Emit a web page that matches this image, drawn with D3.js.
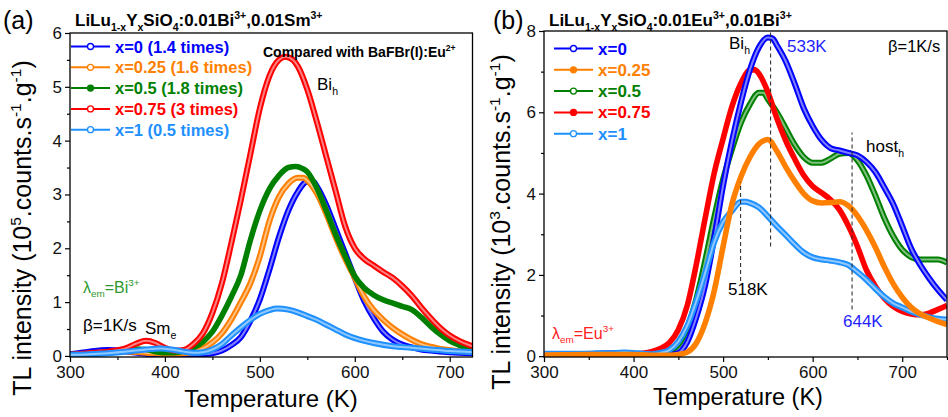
<!DOCTYPE html>
<html><head><meta charset="utf-8">
<script src="https://cdn.jsdelivr.net/npm/d3@7"></script>
<style>body{margin:0;background:#fff}svg{font-family:Arial,"Liberation Sans",sans-serif}</style>
</head><body><svg id="c" width="948" height="417"></svg>
<script>
// ---------- DATA (panel a, 10^5 counts) ----------
const aLabels = ["x=0 (1.4 times)","x=0.25 (1.6 times)","x=0.5 (1.8 times)","x=0.75 (3 times)","x=1 (0.5 times)"];
const aFilled = [false,false,true,false,false];
const a_x0 = [[300,0.03],[320,0.08],[340,0.11],[360,0.08],[380,0.04],[400,0.02],[420,0.02],[440,0.03],[450,0.05],[460,0.1],[470,0.2],[480,0.35],[490,0.65],[500,1.05],[510,1.6],[520,2.2],[530,2.7],[540,3.05],[550,3.24],[556,3.24],[560,3.15],[570,2.8],[580,2.35],[590,1.9],[600,1.45],[610,1.02],[620,0.7],[630,0.45],[640,0.3],[650,0.21],[660,0.16],[670,0.12],[680,0.1],[700,0.07],[724,0.05]];
const a_x025 = [[300,0.01],[320,0.04],[340,0.07],[360,0.08],[380,0.06],[400,0.04],[420,0.05],[430,0.08],[440,0.14],[450,0.25],[460,0.42],[470,0.68],[480,1.0],[490,1.35],[500,1.85],[510,2.5],[520,2.95],[530,3.2],[540,3.31],[546,3.31],[550,3.26],[560,3.02],[570,2.64],[580,2.2],[590,1.8],[600,1.45],[610,1.1],[620,0.85],[630,0.67],[640,0.52],[650,0.4],[660,0.3],[670,0.22],[680,0.17],[690,0.13],[700,0.11],[710,0.09],[724,0.08]];
const a_x05 = [[300,0.02],[320,0.04],[340,0.07],[360,0.1],[370,0.13],[380,0.12],[390,0.08],[400,0.06],[410,0.06],[420,0.09],[430,0.15],[440,0.26],[450,0.45],[460,0.75],[470,1.1],[480,1.5],[490,2.15],[500,2.7],[510,3.1],[520,3.35],[530,3.5],[538,3.52],[545,3.48],[550,3.42],[560,3.12],[570,2.7],[580,2.25],[590,1.85],[600,1.48],[610,1.26],[620,1.13],[630,1.04],[640,0.98],[650,0.92],[660,0.86],[670,0.72],[680,0.55],[690,0.4],[700,0.28],[710,0.2],[724,0.11]];
const a_x075 = [[300,0.02],[320,0.05],[340,0.08],[360,0.15],[370,0.23],[380,0.28],[390,0.24],[400,0.15],[410,0.1],[420,0.11],[430,0.22],[440,0.42],[450,0.8],[460,1.35],[470,2.1],[480,2.9],[490,3.75],[500,4.6],[510,5.2],[520,5.5],[527,5.56],[535,5.5],[540,5.38],[550,4.95],[560,4.35],[570,3.7],[580,3.05],[590,2.4],[600,2.0],[610,1.8],[620,1.68],[630,1.56],[640,1.45],[650,1.3],[660,1.12],[670,0.9],[680,0.7],[690,0.52],[700,0.38],[710,0.28],[724,0.18]];
const a_x1 = [[300,0.02],[320,0.03],[340,0.05],[360,0.08],[380,0.12],[395,0.14],[410,0.11],[420,0.08],[430,0.06],[440,0.07],[450,0.12],[460,0.22],[470,0.38],[480,0.53],[490,0.67],[500,0.78],[510,0.85],[518,0.88],[530,0.86],[540,0.81],[550,0.74],[560,0.67],[570,0.58],[580,0.49],[590,0.4],[600,0.33],[610,0.28],[620,0.24],[640,0.18],[660,0.15],[680,0.12],[700,0.09],[724,0.07]];

// ---------- DATA (panel b, 10^3 counts) ----------
const bLabels = ["x=0","x=0.25","x=0.5","x=0.75","x=1"];
const bFilled = [false,true,false,true,false];
const b_x0 = [[300,0.05],[340,0.05],[380,0.07],[400,0.06],[420,0.03],[440,0.03],[450,0.08],[460,0.35],[470,0.95],[480,1.75],[490,2.9],[500,4.2],[510,5.3],[520,6.25],[530,7.05],[540,7.6],[550,7.84],[555,7.82],[560,7.65],[570,7.25],[580,6.7],[590,6.1],[600,5.66],[610,5.32],[620,5.12],[630,5.06],[640,5.0],[650,4.94],[660,4.78],[670,4.53],[680,4.15],[690,3.74],[700,3.2],[710,2.65],[720,2.25],[730,1.92],[740,1.63],[750,1.38]];
const b_x025 = [[300,0.03],[350,0.04],[400,0.04],[430,0.02],[440,0.02],[450,0.04],[460,0.1],[470,0.32],[480,0.82],[490,1.6],[500,2.7],[510,3.75],[520,4.42],[530,4.9],[540,5.22],[550,5.33],[560,5.05],[570,4.65],[580,4.3],[590,4.0],[600,3.82],[610,3.77],[620,3.78],[630,3.8],[640,3.7],[650,3.45],[660,3.1],[670,2.68],[680,2.2],[690,1.78],[700,1.45],[710,1.2],[720,1.04],[730,0.94],[740,0.85],[750,0.78]];
const b_x05 = [[300,0.04],[350,0.05],[400,0.05],[420,0.04],[430,0.06],[440,0.12],[450,0.28],[460,0.7],[470,1.4],[480,2.35],[490,3.4],[500,4.35],[510,5.1],[520,5.75],[530,6.2],[540,6.48],[545,6.48],[550,6.32],[560,6.0],[570,5.6],[580,5.2],[590,4.9],[600,4.76],[610,4.76],[620,4.86],[630,4.98],[640,5.0],[650,4.82],[660,4.45],[670,3.95],[680,3.4],[690,2.95],[700,2.62],[710,2.44],[720,2.38],[730,2.38],[740,2.38],[750,2.3]];
const b_x075 = [[300,0.04],[350,0.05],[400,0.05],[410,0.07],[420,0.11],[430,0.19],[440,0.33],[450,0.65],[460,1.25],[470,2.25],[480,3.4],[490,4.5],[500,5.35],[510,6.15],[520,6.72],[530,7.04],[535,7.05],[540,6.95],[550,6.5],[560,5.85],[570,5.3],[580,4.85],[590,4.45],[600,4.18],[610,4.02],[620,3.85],[630,3.6],[640,3.2],[650,2.7],[660,2.12],[670,1.72],[680,1.42],[690,1.22],[700,1.1],[710,1.04],[720,1.02],[730,1.06],[740,1.15],[750,1.25]];
const b_x1 = [[300,0.06],[320,0.06],[340,0.06],[360,0.07],[380,0.08],[390,0.09],[400,0.08],[410,0.06],[420,0.05],[430,0.08],[440,0.15],[450,0.36],[460,0.75],[470,1.35],[480,2.05],[490,2.8],[500,3.3],[510,3.58],[520,3.8],[525,3.8],[530,3.77],[540,3.66],[550,3.44],[560,3.2],[570,2.98],[580,2.75],[590,2.55],[600,2.43],[610,2.38],[620,2.35],[630,2.31],[640,2.24],[650,2.07],[660,1.88],[670,1.66],[680,1.46],[690,1.3],[700,1.2],[710,1.1],[720,1.02],[730,0.96],[740,0.92],[750,0.9]];

const xTicks = [300,400,500,600,700];
const aYTicks = [0,1,2,3,4,5,6];
const bYTicks = [0,2,4,6,8];
// dashed guide lines in panel b: [temperature, lower value, upper value]
const bGuides = [[519.5,1.85,4.27],[553,2.7,8],[644,1.15,5.5]];

const colors = ["#0000ff","#ff8000","#008000","#ff0000","#1e90ff"];
const svg = d3.select("#c");

function rich(g, x, y, parts, size, attrs) {
  const t = g.append("text").attr("x", x).attr("y", y).attr("font-size", size);
  Object.entries(attrs || {}).forEach(([k, v]) => t.attr(k, v));
  let shift = 0;
  parts.forEach(([s, k]) => {
    const ts = t.append("tspan").text(s);
    const target = k === "sup" ? -0.42 * size : k === "sub" ? 0.28 * size : 0;
    if (target - shift !== 0) ts.attr("dy", target - shift);
    shift = target;
    if (k) ts.attr("font-size", size * 0.62);
  });
  return t;
}

function panel(o) {
  const x = d3.scaleLinear().domain(o.xd).range([o.L, o.R]);
  const y = d3.scaleLinear().domain(o.yd).range([o.B, o.T]);
  const g = svg.append("g");
  const cid = "clip" + o.id;
  svg.append("clipPath").attr("id", cid).append("rect")
    .attr("x", o.L).attr("y", o.T).attr("width", o.R - o.L).attr("height", o.B - o.T);

  const line = d3.line().x(d => x(d[0])).y(d => y(d[1])).curve(d3.curveMonotoneX);
  const cg = g.append("g").attr("clip-path", `url(#${cid})`);
  o.order.forEach(i => {
    cg.append("path").attr("d", line(o.series[i])).attr("fill", "none")
      .attr("stroke", colors[i]).attr("stroke-width", o.filled[i] ? 5.6 : 6).attr("stroke-linejoin", "round");
    if (!o.filled[i]) {
      cg.append("path").attr("d", line(o.series[i])).attr("fill", "none")
        .attr("stroke", "#fff").attr("stroke-opacity", 0.5).attr("stroke-width", 2);
    }
  });

  // axes
  g.append("g").attr("transform", `translate(0,${o.B})`)
    .call(d3.axisBottom(x).tickValues(xTicks).tickFormat(d3.format("d")).tickSize(5).tickPadding(4).tickSizeOuter(0));
  g.append("g").attr("transform", `translate(0,${o.B})`)
    .call(d3.axisBottom(x).tickValues(xTicks.map(v => v + 50).filter(v => v <= o.xd[1])).tickSize(3).tickFormat("").tickSizeOuter(0));
  g.append("g").attr("transform", `translate(${o.L},0)`)
    .call(d3.axisLeft(y).tickValues(o.yt).tickFormat(d3.format("d")).tickSize(5).tickPadding(3).tickSizeOuter(0));
  const step = o.yt[1] - o.yt[0];
  g.append("g").attr("transform", `translate(${o.L},0)`)
    .call(d3.axisLeft(y).tickValues(o.yt.slice(0, -1).map(v => v + step / 2)).tickSize(3).tickFormat("").tickSizeOuter(0));
  g.selectAll(".domain").remove();
  g.selectAll(".tick line").attr("stroke", "#000").attr("stroke-width", 1.2);
  g.selectAll(".tick text").attr("font-size", 17).attr("fill", "#111").attr("font-family", "Arial, 'Liberation Sans', sans-serif");
  g.append("rect").attr("x", o.L).attr("y", o.T).attr("width", o.R - o.L).attr("height", o.B - o.T)
    .attr("fill", "none").attr("stroke", "#000").attr("stroke-width", 1.3);

  // legend
  o.labels.forEach((lab, i) => {
    const ly = o.legY + i * o.legStep;
    g.append("line").attr("x1", o.legX).attr("x2", o.legX + 39).attr("y1", ly).attr("y2", ly)
      .attr("stroke", colors[i]).attr("stroke-width", 2);
    g.append("circle").attr("cx", o.legX + 19.5).attr("cy", ly).attr("r", 3)
      .attr("fill", o.filled[i] ? colors[i] : "#fff").attr("stroke", colors[i]).attr("stroke-width", 1.3);
    g.append("text").attr("x", o.legX + 44).attr("y", ly + 6).attr("font-size", o.legFont)
      .attr("font-weight", "bold").attr("fill", colors[i]).text(lab);
  });
  return {x, y, g};
}

// ---------- Panel a ----------
const A = panel({id: "a", L: 70, R: 472.5, T: 33, B: 357, xd: [300, 724], yd: [-0.02, 6], yt: aYTicks,
  series: [a_x0, a_x025, a_x05, a_x075, a_x1], order: [0, 1, 2, 3, 4], filled: aFilled,
  labels: aLabels, legX: 71, legY: 46.5, legStep: 20.8, legFont: 16.5});

// ---------- Panel b ----------
const Bp = panel({id: "b", L: 544, R: 947, T: 31, B: 357, xd: [300, 750], yd: [-0.02, 8], yt: bYTicks,
  series: [b_x0, b_x025, b_x05, b_x075, b_x1], order: [2, 3, 0, 4, 1], filled: bFilled,
  labels: bLabels, legX: 554, legY: 48.5, legStep: 21.3, legFont: 17});

bGuides.forEach(([t, v0, v1]) => {
  Bp.g.append("line").attr("x1", Bp.x(t)).attr("x2", Bp.x(t)).attr("y1", Bp.y(v0)).attr("y2", Bp.y(v1))
    .attr("stroke", "#333").attr("stroke-width", 1.1).attr("stroke-dasharray", "4,3");
});

// ---------- Text ----------
rich(svg, 3, 29, [["(a)", ""]], 25, {});
rich(svg, 493, 29, [["(b)", ""]], 25, {});
rich(svg, 75, 26, [["LiLu",""],["1-x","sub"],["Y",""],["x","sub"],["SiO",""],["4","sub"],[":0.01Bi",""],["3+","sup"],[",0.01Sm",""],["3+","sup"]], 17, {"font-weight": "bold"});
rich(svg, 549, 26, [["LiLu",""],["1-x","sub"],["Y",""],["x","sub"],["SiO",""],["4","sub"],[":0.01Eu",""],["3+","sup"],[",0.01Bi",""],["3+","sup"]], 17, {"font-weight": "bold"});

rich(svg, 263, 57, [["Compared with BaFBr(I):Eu",""],["2+","sup"]], 14, {"font-weight": "bold"});
rich(svg, 317, 90, [["Bi",""],["h","sub"]], 17, {});
rich(svg, 83, 293, [["λ",""],["em","sub"],["=Bi",""],["3+","sup"]], 16, {fill: "#2e9a2e"});
rich(svg, 83, 331, [["β=1K/s",""]], 17, {});
rich(svg, 145, 334, [["Sm",""],["e","sub"]], 17, {});

rich(svg, 729, 49, [["Bi",""],["h","sub"]], 17, {});
rich(svg, 787, 52, [["533K",""]], 17, {fill: "#1f1fff"});
rich(svg, 888, 52, [["β=1K/s",""]], 16.5, {});
rich(svg, 866, 152, [["host",""],["h","sub"]], 17, {});
rich(svg, 728, 295, [["518K",""]], 17, {});
rich(svg, 843, 327, [["644K",""]], 17, {fill: "#1f1fff"});
rich(svg, 552, 339, [["λ",""],["em","sub"],["=Eu",""],["3+","sup"]], 16, {fill: "#ff2020"});

rich(svg, 271, 407, [["Temperature (K)",""]], 24, {"text-anchor": "middle"});
rich(svg, 738, 405, [["Temperature (K)",""]], 23.5, {"text-anchor": "middle"});

rich(svg, 0, 0, [["TL intensity (10",""],["5","sup"],[".counts.s",""],["-1","sup"],[".g",""],["-1","sup"],[")",""]], 25,
  {"text-anchor": "middle", transform: "translate(31,228) rotate(-90)"});
rich(svg, 0, 0, [["TL intensity (10",""],["3","sup"],[".counts.s",""],["-1","sup"],[".g",""],["-1","sup"],[")",""]], 25,
  {"text-anchor": "middle", transform: "translate(510,222) rotate(-90)"});
</script></body></html>
